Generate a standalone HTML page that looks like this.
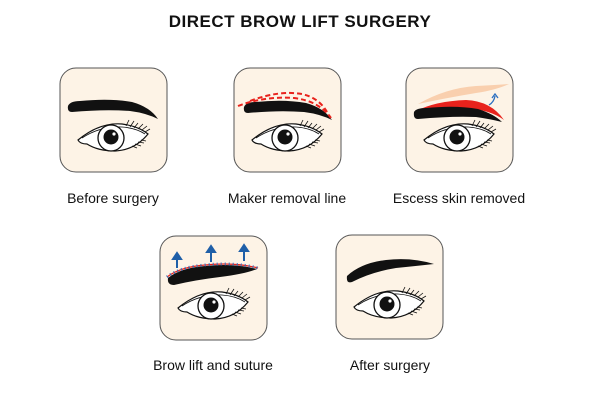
<!DOCTYPE html>
<html><head><style>
body{margin:0;background:#fff;width:600px;height:400px;overflow:hidden}
</style></head><body>
<svg width="600" height="400" xmlns="http://www.w3.org/2000/svg" font-family="Liberation Sans, sans-serif">
<defs>
<g id="eye">
  <path d="M18,72 Q40,54 62,56 Q78,58 88,66 Q75,82 55,83 Q38,83 27,76 Q20,76 18,72 Z" fill="#fff" stroke="#111" stroke-width="1.2"/>
  <path d="M22,70 Q40,58 62,59 Q76,60 85,66" fill="none" stroke="#111" stroke-width="0.8"/>
  <circle cx="51" cy="70" r="13" fill="#fff" stroke="#111" stroke-width="1.3"/>
  <circle cx="51" cy="69" r="7.5" fill="#111"/>
  <circle cx="54" cy="66" r="1.6" fill="#fff"/>
  <g stroke="#111" stroke-width="0.8" fill="none">
    <path d="M66,58 l3,-6 M70,59 l4,-6 M74,60 l4,-5 M78,61 l5,-5 M82,62 l5,-4 M85,64 l5,-3"/>
    <path d="M72,78 l5,2 M75,76 l6,2 M78,74 l6,1 M81,72 l5,1"/>
  </g>
</g>
<g id="box"><rect x="0" y="0" width="107" height="104" rx="16" fill="#fdf3e6" stroke="#555" stroke-width="1"/></g>
</defs>

<text x="300" y="27" text-anchor="middle" font-size="17" font-weight="bold" fill="#111" letter-spacing="0.5">DIRECT BROW LIFT SURGERY</text>

<!-- Box 1 -->
<g transform="translate(60,68)">
  <use href="#box"/>
  <path d="M8,38 Q10,33 20,33 Q50,30 72,34 Q90,39 98,51 Q86,45 70,43 Q45,41 12,44 Q7,44 8,38 Z" fill="#111"/>
  <use href="#eye"/>
</g>
<text x="113" y="203" text-anchor="middle" font-size="14" fill="#111">Before surgery</text>

<!-- Box 2 -->
<g transform="translate(234,68)">
  <use href="#box"/>
  <path d="M10,39 Q12,34 22,34 Q50,31 72,35 Q90,40 98,52 Q86,46 70,44 Q45,42 14,45 Q9,45 10,39 Z" fill="#111"/>
  <path d="M4,38 Q30,28 60,30 Q85,33 97,50" fill="none" stroke="#e8221c" stroke-width="2" stroke-dasharray="5,3"/>
  <path d="M16,33 Q45,22 68,26 Q85,30 93,44" fill="none" stroke="#e8221c" stroke-width="2" stroke-dasharray="5,3"/>
  <use href="#eye"/>
</g>
<text x="287" y="203" text-anchor="middle" font-size="14" fill="#111">Maker removal line</text>

<!-- Box 3 -->
<g transform="translate(406,68)">
  <use href="#box"/>
  <path d="M12,36 Q40,20 70,18 Q90,17 103,16 Q90,22 70,25 Q40,30 12,36 Z" fill="#f9cfae"/>
  <path d="M10,43 Q30,33 60,32 Q85,33 98,52 Q85,42 60,40 Q35,40 10,43 Z" fill="#e8221c"/>
  <path d="M8,44 Q10,40 20,40 Q50,37 72,41 Q88,46 96,54 Q84,51 70,49 Q45,48 12,51 Q7,51 8,44 Z" fill="#111"/>
  <path d="M83,37 Q88,34 89,28" fill="none" stroke="#2b6fc0" stroke-width="1.3"/>
  <path d="M86,30 L89,26 L92,30" fill="none" stroke="#2b6fc0" stroke-width="1.3"/>
  <use href="#eye"/>
</g>
<text x="459" y="203" text-anchor="middle" font-size="14" fill="#111">Escess skin removed</text>

<!-- Box 4 -->
<g transform="translate(160,236)">
  <use href="#box"/>
  <path d="M8,42 Q20,32 45,30 Q75,27 97,33 Q85,38 60,41 Q35,44 14,49 Q7,49 8,42 Z" fill="#111"/>
  <path d="M7,41 Q20,31 45,29 Q75,26 98,32" fill="none" stroke="#e8221c" stroke-width="1.2"/>
  <path d="M7,41 Q20,31 45,29 Q75,26 98,32" fill="none" stroke="#2b6fc0" stroke-width="3" stroke-dasharray="1,3"/>
  <g fill="#1f5fa8" stroke="#1f5fa8" stroke-width="2">
    <line x1="17" y1="32" x2="17" y2="22"/><path d="M13,23 L17,17 L21,23 Z"/>
    <line x1="51" y1="26" x2="51" y2="14"/><path d="M47,16 L51,10 L55,16 Z"/>
    <line x1="84" y1="25" x2="84" y2="13"/><path d="M80,15 L84,9 L88,15 Z"/>
  </g>
  <use href="#eye"/>
</g>
<text x="213" y="370" text-anchor="middle" font-size="14" fill="#111">Brow lift and suture</text>

<!-- Box 5 -->
<g transform="translate(336,235)">
  <use href="#box"/>
  <path d="M11,41 Q25,28 50,25 Q75,22 98,29 Q80,31 60,33 Q35,37 16,47 Q10,49 11,41 Z" fill="#111"/>
  <use href="#eye"/>
</g>
<text x="390" y="370" text-anchor="middle" font-size="14" fill="#111">After surgery</text>
</svg>
</body></html>
